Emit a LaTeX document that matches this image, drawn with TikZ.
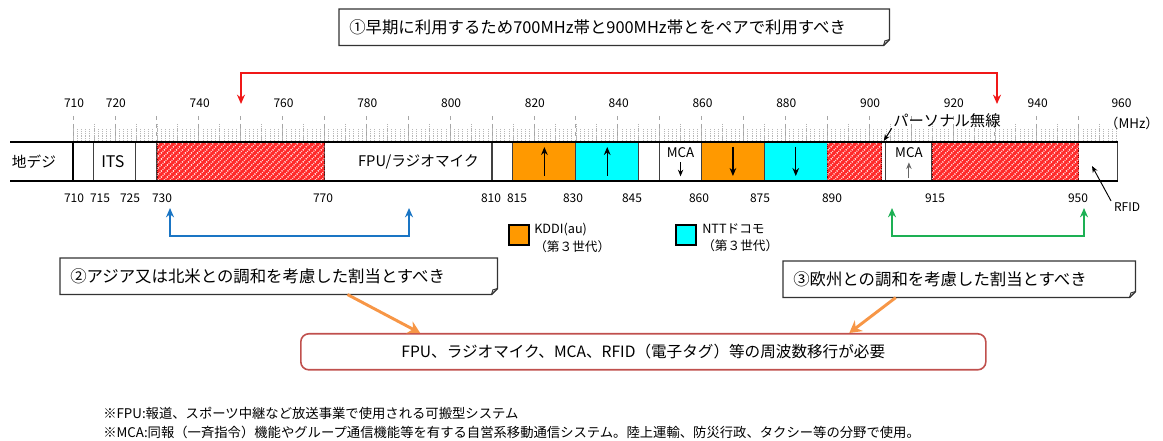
\documentclass[tikz,border=0pt]{standalone}
\usepackage{fontspec}
\setmainfont{Noto Sans CJK JP}
\usetikzlibrary{arrows.meta,patterns.meta,calc}

\definecolor{kddi}{HTML}{FF9900}
\definecolor{docomo}{HTML}{00FFFF}
\definecolor{bandred}{HTML}{FF2A2A}
\definecolor{pairred}{HTML}{F01818}
\definecolor{asiablue}{HTML}{1A75C4}
\definecolor{eugreen}{HTML}{1DB054}
\definecolor{needorange}{HTML}{F79646}
\definecolor{needred}{HTML}{C0504D}

% frequency (MHz) -> x
\newcommand\fq[1]{73+(#1-710)*4.19}

% box with folded corner
\newcommand\dogear[1]{%
  \draw[line width=1pt,black!80] (#1.north west) -- (#1.north east) -- ([yshift=4.5pt]#1.south east)
     -- ([xshift=-4.5pt]#1.south east) -- (#1.south west) -- cycle;
  \draw[line width=0.7pt,black!80] ([yshift=4.5pt]#1.south east) -- ([xshift=-3.5pt,yshift=3.5pt]#1.south east)
     -- ([xshift=-4.5pt]#1.south east);
}

\tikzset{
  lbl/.style={font=\fontsize{9}{10}\selectfont, inner sep=0pt},
  seg/.style={draw=black!75, line width=0.8pt},
  hatch/.style={fill=bandred, draw=red!45!black, densely dotted,
    postaction={pattern={Lines[angle=45,distance=3.2pt,line width=1.1pt]}, pattern color=white}},
  intext/.style={font=\fontsize{11}{12}\selectfont, inner sep=0pt},
  callout/.style={font=\fontsize{12.3}{15}\selectfont, anchor=north west, align=left,
    inner xsep=7.5pt, inner ysep=0pt, minimum height=27pt},
  legend/.style={font=\fontsize{9.5}{13}\selectfont, anchor=west, align=left, inner sep=0pt},
  foot/.style={font=\fontsize{10}{11}\selectfont, anchor=west, inner sep=0pt},
  pair/.style={line width=1.5pt, <->},
  needarrow/.style={needorange, line width=2.2pt, -{Stealth[length=9pt,width=10pt]}},
}

\begin{document}
\begin{tikzpicture}[x=0.75pt,y=-0.75pt, >={Stealth[length=7pt,width=6pt]}]
\useasboundingbox (0,0) rectangle (1163,441);

% ruler
\foreach \m in {710,...,959}
  \draw[gray!55, line width=0.4pt, densely dotted] ({\fq{\m}},129) -- ({\fq{\m}},142);
\foreach \m in {710,715,...,955}
  \draw[gray!60, line width=0.4pt, densely dotted] ({\fq{\m}},124) -- ({\fq{\m}},142);
\foreach \m in {710,720,...,950}
  \draw[gray!70, line width=0.5pt, dashed] ({\fq{\m}},116) -- ({\fq{\m}},142);
\foreach \m in {710,720,740,760,...,960}
  \node[lbl] (t\m) at ({\fq{\m}+1},103) {\m};
\node[font=\fontsize{10}{11}\selectfont, inner sep=0pt] (mhz) at (1132,123) {（MHz）};

% band
\foreach \a/\b in {710/715,715/725,725/730,770/810,810/815,845/850,850/860,903/904,904/915,950/959.3}
  \draw[seg] ({\fq{\a}},142) rectangle ({\fq{\b}},181);
\foreach \a/\b in {815/830,860/875}
  \draw[seg, fill=kddi] ({\fq{\a}},142) rectangle ({\fq{\b}},181);
\foreach \a/\b in {830/845,875/890}
  \draw[seg, fill=docomo] ({\fq{\a}},142) rectangle ({\fq{\b}},181);
\foreach \a/\b in {730/770,890/903,915/950}
  \draw[hatch] ({\fq{\a}},142) rectangle ({\fq{\b}},181);
\draw[line width=1.6pt] (10,142) -- ({\fq{959.3}},142) (10,181) -- ({\fq{959.3}},181);
\draw[line width=1.6pt] ({\fq{710}},141.5) -- ({\fq{710}},181.5);

\node[intext] (digi) at (34,162) {地デジ};
\node[intext, font=\fontsize{12}{12}\selectfont] (its) at ({\fq{719.5}},162) {ITS};
\node[intext, anchor=east] (fpu) at (479,162) {FPU/ラジオマイク};
\node[font=\fontsize{10}{11}\selectfont, inner sep=0pt] (mca1) at ({\fq{855}},153) {MCA};
\node[font=\fontsize{10}{11}\selectfont, inner sep=0pt] (mca2) at ({\fq{909.5}},153) {MCA};
\draw[line width=0.8pt, -{Stealth[length=5pt,width=4pt]}] ([yshift=-3pt]mca1.south) -- ++(0,14);
\draw[black!60, line width=0.8pt, -{Stealth[length=5pt,width=4pt]}] ([yshift=-15pt]mca2.south) -- ([yshift=-3pt]mca2.south);
\foreach \f in {822.5,837.5}
  \draw[line width=1pt, -{Stealth[length=6pt,width=5pt]}] ({\fq{\f}},176) -- ({\fq{\f}},147);
\foreach \f in {867.5,882.5}
  \draw[line width=1pt, -{Stealth[length=6pt,width=5pt]}] ({\fq{\f}},147) -- ({\fq{\f}},176);

\node[font=\fontsize{11.5}{12}\selectfont, inner sep=0pt, anchor=west] (pers) at (893,121) {パーソナル無線};
\coordinate (perstip) at ({\fq{903.5}},141);
\draw[line width=0.8pt, -{Stealth[length=5pt,width=4pt]}] ([xshift=-1pt]pers.south west) -- (perstip);
\node[lbl] (rfid) at (1127,207) {RFID};
\coordinate (rfidtip) at (1092,166);
\draw[line width=0.7pt, -{Stealth[length=5pt,width=4pt]}] ([xshift=-2pt,yshift=1pt]rfid.north west) -- (rfidtip);

% bottom labels
\foreach \m/\x in {710/74,715/100,725/130,730/162,770/323,810/491,815/517,830/573,845/632,860/699,875/760,890/832,915/935,950/1078}
  \node[lbl] (b\m) at (\x,198) {\m};

% legend
\draw[fill=kddi, line width=0.8pt] (509,225) rectangle (529,245);
\node[legend] (kddi) at (534,238) {KDDI(au)\\（第３世代）};
\draw[fill=docomo, line width=0.8pt] (676,225) rectangle (696,245);
\node[legend] (docomo) at (702,238) {NTTドコモ\\（第３世代）};

% pairing arrows
\coordinate (pa) at (241,104);
\coordinate (pb) at (997,104);
\draw[pair, pairred] (pa) -- ++(0,-31) -| (pb);
\coordinate (aa) at (170,208);
\coordinate (ab) at (409,208);
\draw[pair, asiablue] (aa) -- ++(0,28) -| (ab);
\coordinate (ea) at (892,208);
\coordinate (eb) at (1084,208);
\draw[pair, eugreen] (ea) -- ++(0,28) -| (eb);

% callouts
\node[callout, text width=397.5pt] (box1) at (339,9) {①早期に利用するため700MHz帯と900MHz帯とをペアで利用すべき};
\dogear{box1}
\node[callout, text width=312.75pt] (box2) at (60,258) {②アジア又は北米との調和を考慮した割当とすべき};
\dogear{box2}
\node[callout, text width=249pt] (box3) at (783,261) {③欧州との調和を考慮した割当とすべき};
\dogear{box3}
\node[draw=needred, line width=1.2pt, rounded corners=6pt, minimum width=513.75pt, minimum height=27pt,
  font=\fontsize{11.7}{14}\selectfont, anchor=north west] (box4) at (300,333)
  {FPU、ラジオマイク、MCA、RFID（電子タグ）等の周波数移行が必要};
\draw[needarrow] ($(box2.south west)!0.657!(box2.south east)$) -- ($(box4.north west)!0.175!(box4.north east)$);
\draw[needarrow] ($(box3.south west)!0.32!(box3.south east)$) -- ($(box4.north west)!0.80!(box4.north east)$);

% notes
\node[foot] (note1) at (103,413) {※FPU:報道、スポーツ中継など放送事業で使用される可搬型システム};
\node[foot] (note2) at (103,432) {※MCA:同報（一斉指令）機能やグループ通信機能等を有する自営系移動通信システム。陸上運輸、防災行政、タクシー等の分野で使用。};
\end{tikzpicture}
\end{document}
